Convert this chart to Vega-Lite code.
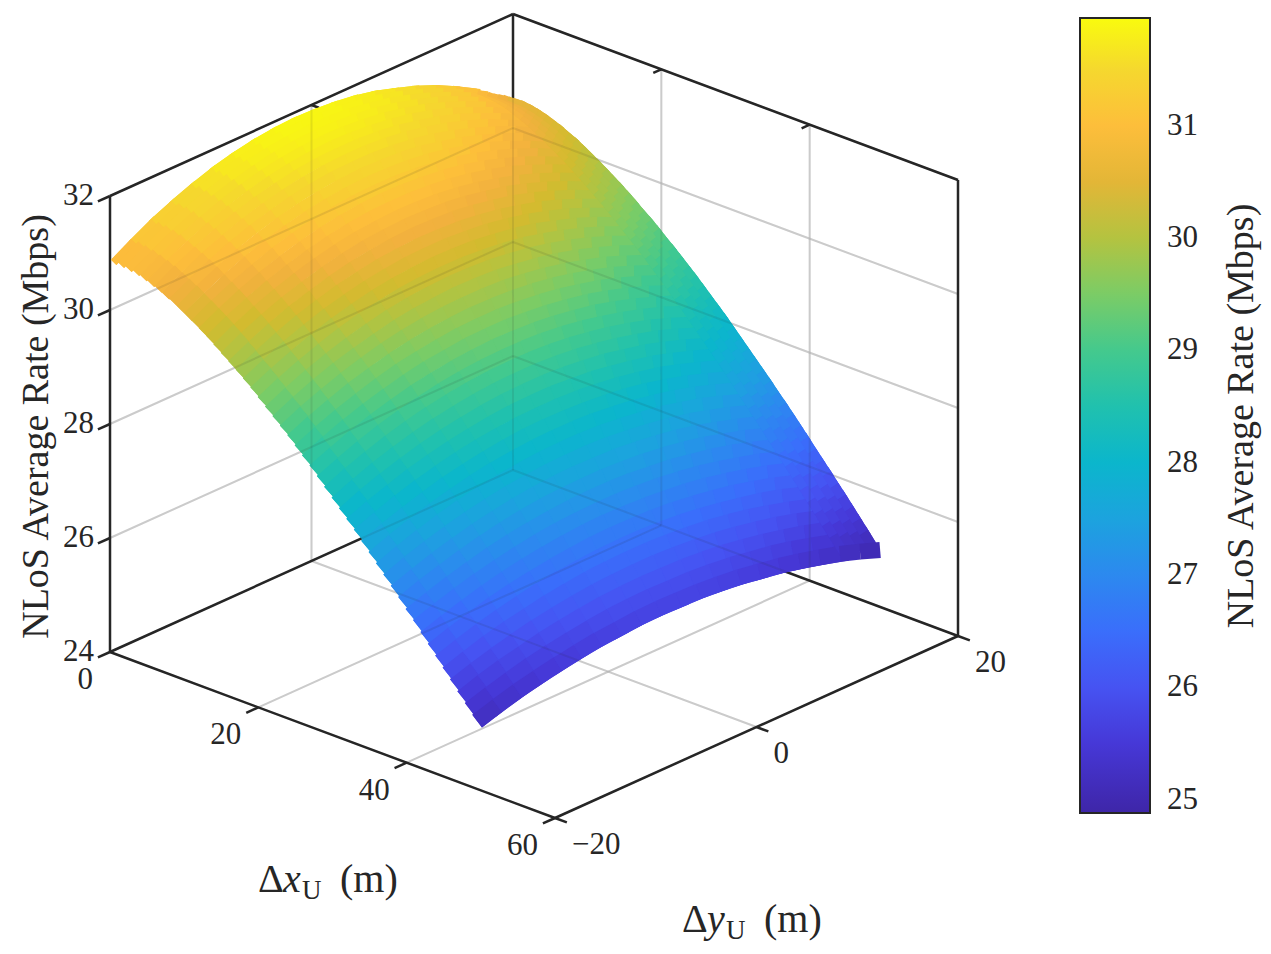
{
  "$schema": "https://vega.github.io/schema/vega-lite/v6.json",
  "width": 1271,
  "height": 954,
  "padding": 0,
  "autosize": {"type": "none"},
  "background": "white",
  "config": {"view": {"stroke": null}},
  "resolve": {"scale": {"size": "independent"}},
  "datasets": {
    "surface": [
      {"x":0.5,"-20":30.86,"-18":31.07,"-16":31.26,"-14":31.42,"-12":31.56,"-10":31.68,"-8":31.77,"-6":31.84,"-4":31.88,"-2":31.90,"0":31.89,"2":31.86,"4":31.81,"6":31.73,"8":31.62,"10":31.50,"12":31.35,"14":31.17,"16":30.97},
      {"x":1.5,"-20":30.86,"-18":31.07,"-16":31.25,"-14":31.42,"-12":31.56,"-10":31.67,"-8":31.76,"-6":31.83,"-4":31.87,"-2":31.89,"0":31.88,"2":31.85,"4":31.80,"6":31.72,"8":31.62,"10":31.49,"12":31.34,"14":31.16,"16":30.97},
      {"x":2.5,"-20":30.84,"-18":31.05,"-16":31.24,"-14":31.40,"-12":31.53,"-10":31.65,"-8":31.74,"-6":31.80,"-4":31.84,"-2":31.86,"0":31.86,"2":31.83,"4":31.77,"6":31.70,"8":31.59,"10":31.47,"12":31.32,"14":31.15,"16":30.95},
      {"x":3.5,"-20":30.82,"-18":31.02,"-16":31.21,"-14":31.37,"-12":31.50,"-10":31.61,"-8":31.70,"-6":31.77,"-4":31.81,"-2":31.83,"0":31.82,"2":31.79,"4":31.74,"6":31.66,"8":31.56,"10":31.44,"12":31.29,"14":31.12,"16":30.92},
      {"x":4.5,"-20":30.78,"-18":30.98,"-16":31.17,"-14":31.32,"-12":31.46,"-10":31.57,"-8":31.66,"-6":31.72,"-4":31.76,"-2":31.78,"0":31.77,"2":31.74,"4":31.69,"6":31.61,"8":31.52,"10":31.39,"12":31.25,"14":31.08,"16":30.89},
      {"x":5.5,"-20":30.73,"-18":30.93,"-16":31.11,"-14":31.27,"-12":31.40,"-10":31.51,"-8":31.60,"-6":31.66,"-4":31.70,"-2":31.72,"0":31.71,"2":31.68,"4":31.63,"6":31.56,"8":31.46,"10":31.34,"12":31.19,"14":31.03,"16":30.84},
      {"x":6.5,"-20":30.68,"-18":30.88,"-16":31.05,"-14":31.21,"-12":31.34,"-10":31.45,"-8":31.53,"-6":31.60,"-4":31.64,"-2":31.65,"0":31.65,"2":31.62,"4":31.57,"6":31.49,"8":31.40,"10":31.28,"12":31.13,"14":30.97,"16":30.78},
      {"x":7.5,"-20":30.61,"-18":30.81,"-16":30.99,"-14":31.14,"-12":31.27,"-10":31.38,"-8":31.46,"-6":31.52,"-4":31.56,"-2":31.58,"0":31.58,"2":31.55,"4":31.50,"6":31.42,"8":31.33,"10":31.21,"12":31.07,"14":30.90,"16":30.72},
      {"x":8.5,"-20":30.55,"-18":30.74,"-16":30.92,"-14":31.07,"-12":31.20,"-10":31.30,"-8":31.39,"-6":31.45,"-4":31.49,"-2":31.50,"0":31.50,"2":31.47,"4":31.42,"6":31.35,"8":31.25,"10":31.13,"12":30.99,"14":30.83,"16":30.65},
      {"x":9.5,"-20":30.47,"-18":30.67,"-16":30.84,"-14":30.99,"-12":31.11,"-10":31.22,"-8":31.30,"-6":31.36,"-4":31.40,"-2":31.42,"0":31.41,"2":31.39,"4":31.34,"6":31.26,"8":31.17,"10":31.05,"12":30.92,"14":30.76,"16":30.57},
      {"x":10.5,"-20":30.39,"-18":30.58,"-16":30.75,"-14":30.90,"-12":31.03,"-10":31.13,"-8":31.21,"-6":31.27,"-4":31.31,"-2":31.33,"0":31.32,"2":31.30,"4":31.25,"6":31.18,"8":31.08,"10":30.97,"12":30.83,"14":30.67,"16":30.49},
      {"x":11.5,"-20":30.31,"-18":30.50,"-16":30.67,"-14":30.81,"-12":30.94,"-10":31.04,"-8":31.12,"-6":31.18,"-4":31.22,"-2":31.23,"0":31.23,"2":31.20,"4":31.15,"6":31.08,"8":30.99,"10":30.88,"12":30.74,"14":30.59,"16":30.41},
      {"x":12.5,"-20":30.22,"-18":30.41,"-16":30.58,"-14":30.72,"-12":30.84,"-10":30.94,"-8":31.02,"-6":31.08,"-4":31.12,"-2":31.14,"0":31.13,"2":31.10,"4":31.06,"6":30.99,"8":30.90,"10":30.78,"12":30.65,"14":30.49,"16":30.32},
      {"x":13.5,"-20":30.13,"-18":30.32,"-16":30.48,"-14":30.62,"-12":30.74,"-10":30.84,"-8":30.92,"-6":30.98,"-4":31.02,"-2":31.03,"0":31.03,"2":31.00,"4":30.96,"6":30.89,"8":30.80,"10":30.69,"12":30.55,"14":30.40,"16":30.23},
      {"x":14.5,"-20":30.03,"-18":30.22,"-16":30.38,"-14":30.52,"-12":30.64,"-10":30.74,"-8":30.82,"-6":30.88,"-4":30.91,"-2":30.93,"0":30.92,"2":30.90,"4":30.85,"6":30.78,"8":30.69,"10":30.58,"12":30.45,"14":30.30,"16":30.13},
      {"x":15.5,"-20":29.93,"-18":30.12,"-16":30.28,"-14":30.42,"-12":30.53,"-10":30.63,"-8":30.71,"-6":30.77,"-4":30.80,"-2":30.82,"0":30.81,"2":30.79,"4":30.74,"6":30.67,"8":30.59,"10":30.48,"12":30.35,"14":30.20,"16":30.03},
      {"x":16.5,"-20":29.83,"-18":30.01,"-16":30.17,"-14":30.31,"-12":30.42,"-10":30.52,"-8":30.60,"-6":30.65,"-4":30.69,"-2":30.71,"0":30.70,"2":30.68,"4":30.63,"6":30.56,"8":30.48,"10":30.37,"12":30.24,"14":30.09,"16":29.92},
      {"x":17.5,"-20":29.73,"-18":29.90,"-16":30.06,"-14":30.20,"-12":30.31,"-10":30.41,"-8":30.48,"-6":30.54,"-4":30.57,"-2":30.59,"0":30.58,"2":30.56,"4":30.51,"6":30.45,"8":30.36,"10":30.26,"12":30.13,"14":29.98,"16":29.82},
      {"x":18.5,"-20":29.62,"-18":29.79,"-16":29.95,"-14":30.08,"-12":30.20,"-10":30.29,"-8":30.37,"-6":30.42,"-4":30.46,"-2":30.47,"0":30.47,"2":30.44,"4":30.40,"6":30.33,"8":30.25,"10":30.14,"12":30.02,"14":29.87,"16":29.71},
      {"x":19.5,"-20":29.51,"-18":29.68,"-16":29.83,"-14":29.96,"-12":30.08,"-10":30.17,"-8":30.25,"-6":30.30,"-4":30.33,"-2":30.35,"0":30.34,"2":30.32,"4":30.27,"6":30.21,"8":30.13,"10":30.02,"12":29.90,"14":29.76,"16":29.59},
      {"x":20.5,"-20":29.39,"-18":29.56,"-16":29.71,"-14":29.84,"-12":29.96,"-10":30.05,"-8":30.12,"-6":30.18,"-4":30.21,"-2":30.22,"0":30.22,"2":30.19,"4":30.15,"6":30.09,"8":30.00,"10":29.90,"12":29.78,"14":29.64,"16":29.48},
      {"x":21.5,"-20":29.27,"-18":29.44,"-16":29.59,"-14":29.72,"-12":29.83,"-10":29.92,"-8":30.00,"-6":30.05,"-4":30.08,"-2":30.10,"0":30.09,"2":30.07,"4":30.02,"6":29.96,"8":29.88,"10":29.78,"12":29.66,"14":29.52,"16":29.36},
      {"x":22.5,"-20":29.15,"-18":29.32,"-16":29.47,"-14":29.60,"-12":29.70,"-10":29.79,"-8":29.87,"-6":29.92,"-4":29.95,"-2":29.97,"0":29.96,"2":29.94,"4":29.89,"6":29.83,"8":29.75,"10":29.65,"12":29.53,"14":29.40,"16":29.24},
      {"x":23.5,"-20":29.03,"-18":29.20,"-16":29.34,"-14":29.47,"-12":29.58,"-10":29.67,"-8":29.74,"-6":29.79,"-4":29.82,"-2":29.83,"0":29.83,"2":29.81,"4":29.76,"6":29.70,"8":29.62,"10":29.52,"12":29.41,"14":29.27,"16":29.12},
      {"x":24.5,"-20":28.91,"-18":29.07,"-16":29.21,"-14":29.34,"-12":29.44,"-10":29.53,"-8":29.60,"-6":29.65,"-4":29.68,"-2":29.70,"0":29.69,"2":29.67,"4":29.63,"6":29.57,"8":29.49,"10":29.39,"12":29.28,"14":29.14,"16":28.99},
      {"x":25.5,"-20":28.78,"-18":28.94,"-16":29.08,"-14":29.20,"-12":29.31,"-10":29.40,"-8":29.46,"-6":29.51,"-4":29.55,"-2":29.56,"0":29.56,"2":29.53,"4":29.49,"6":29.43,"8":29.35,"10":29.26,"12":29.14,"14":29.01,"16":28.86},
      {"x":26.5,"-20":28.65,"-18":28.81,"-16":28.95,"-14":29.07,"-12":29.17,"-10":29.26,"-8":29.33,"-6":29.37,"-4":29.41,"-2":29.42,"0":29.42,"2":29.39,"4":29.35,"6":29.29,"8":29.22,"10":29.12,"12":29.01,"14":28.88,"16":28.73},
      {"x":27.5,"-20":28.52,"-18":28.67,"-16":28.81,"-14":28.93,"-12":29.03,"-10":29.12,"-8":29.18,"-6":29.23,"-4":29.26,"-2":29.28,"0":29.27,"2":29.25,"4":29.21,"6":29.15,"8":29.08,"10":28.98,"12":28.87,"14":28.74,"16":28.60},
      {"x":28.5,"-20":28.38,"-18":28.53,"-16":28.67,"-14":28.79,"-12":28.89,"-10":28.97,"-8":29.04,"-6":29.09,"-4":29.12,"-2":29.13,"0":29.13,"2":29.11,"4":29.07,"6":29.01,"8":28.93,"10":28.84,"12":28.73,"14":28.61,"16":28.46},
      {"x":29.5,"-20":28.24,"-18":28.40,"-16":28.53,"-14":28.65,"-12":28.75,"-10":28.83,"-8":28.89,"-6":28.94,"-4":28.97,"-2":28.98,"0":28.98,"2":28.96,"4":28.92,"6":28.86,"8":28.79,"10":28.70,"12":28.59,"14":28.46,"16":28.32},
      {"x":30.5,"-20":28.10,"-18":28.25,"-16":28.39,"-14":28.50,"-12":28.60,"-10":28.68,"-8":28.74,"-6":28.79,"-4":28.82,"-2":28.83,"0":28.83,"2":28.81,"4":28.77,"6":28.71,"8":28.64,"10":28.55,"12":28.45,"14":28.32,"16":28.18},
      {"x":31.5,"-20":27.96,"-18":28.11,"-16":28.24,"-14":28.35,"-12":28.45,"-10":28.53,"-8":28.59,"-6":28.64,"-4":28.67,"-2":28.68,"0":28.68,"2":28.66,"4":28.62,"6":28.57,"8":28.49,"10":28.41,"12":28.30,"14":28.18,"16":28.04},
      {"x":32.5,"-20":27.82,"-18":27.97,"-16":28.09,"-14":28.21,"-12":28.30,"-10":28.38,"-8":28.44,"-6":28.49,"-4":28.52,"-2":28.53,"0":28.53,"2":28.50,"4":28.47,"6":28.41,"8":28.34,"10":28.26,"12":28.15,"14":28.03,"16":27.90},
      {"x":33.5,"-20":27.68,"-18":27.82,"-16":27.95,"-14":28.06,"-12":28.15,"-10":28.23,"-8":28.29,"-6":28.33,"-4":28.36,"-2":28.37,"0":28.37,"2":28.35,"4":28.31,"6":28.26,"8":28.19,"10":28.11,"12":28.00,"14":27.88,"16":27.75},
      {"x":34.5,"-20":27.53,"-18":27.67,"-16":27.79,"-14":27.90,"-12":28.00,"-10":28.07,"-8":28.13,"-6":28.18,"-4":28.21,"-2":28.22,"0":28.21,"2":28.19,"4":28.16,"6":28.11,"8":28.04,"10":27.95,"12":27.85,"14":27.73,"16":27.60},
      {"x":35.5,"-20":27.38,"-18":27.52,"-16":27.64,"-14":27.75,"-12":27.84,"-10":27.92,"-8":27.98,"-6":28.02,"-4":28.05,"-2":28.06,"0":28.06,"2":28.04,"4":28.00,"6":27.95,"8":27.88,"10":27.80,"12":27.70,"14":27.58,"16":27.45},
      {"x":36.5,"-20":27.23,"-18":27.37,"-16":27.49,"-14":27.60,"-12":27.69,"-10":27.76,"-8":27.82,"-6":27.86,"-4":27.89,"-2":27.90,"0":27.90,"2":27.88,"4":27.84,"6":27.79,"8":27.73,"10":27.64,"12":27.55,"14":27.43,"16":27.30},
      {"x":37.5,"-20":27.08,"-18":27.22,"-16":27.34,"-14":27.44,"-12":27.53,"-10":27.60,"-8":27.66,"-6":27.70,"-4":27.73,"-2":27.74,"0":27.74,"2":27.72,"4":27.68,"6":27.63,"8":27.57,"10":27.49,"12":27.39,"14":27.28,"16":27.15},
      {"x":38.5,"-20":26.93,"-18":27.06,"-16":27.18,"-14":27.28,"-12":27.37,"-10":27.44,"-8":27.50,"-6":27.54,"-4":27.57,"-2":27.58,"0":27.57,"2":27.56,"4":27.52,"6":27.47,"8":27.41,"10":27.33,"12":27.23,"14":27.12,"16":27.00},
      {"x":39.5,"-20":26.78,"-18":26.91,"-16":27.02,"-14":27.12,"-12":27.21,"-10":27.28,"-8":27.34,"-6":27.38,"-4":27.40,"-2":27.41,"0":27.41,"2":27.39,"4":27.36,"6":27.31,"8":27.25,"10":27.17,"12":27.07,"14":26.97,"16":26.84},
      {"x":40.5,"-20":26.62,"-18":26.75,"-16":26.86,"-14":26.96,"-12":27.05,"-10":27.12,"-8":27.17,"-6":27.21,"-4":27.24,"-2":27.25,"0":27.25,"2":27.23,"4":27.19,"6":27.15,"8":27.08,"10":27.01,"12":26.92,"14":26.81,"16":26.69},
      {"x":41.5,"-20":26.47,"-18":26.59,"-16":26.70,"-14":26.80,"-12":26.88,"-10":26.95,"-8":27.01,"-6":27.05,"-4":27.07,"-2":27.08,"0":27.08,"2":27.06,"4":27.03,"6":26.98,"8":26.92,"10":26.84,"12":26.75,"14":26.65,"16":26.53},
      {"x":42.5,"-20":26.31,"-18":26.43,"-16":26.54,"-14":26.64,"-12":26.72,"-10":26.79,"-8":26.84,"-6":26.88,"-4":26.91,"-2":26.92,"0":26.91,"2":26.89,"4":26.86,"6":26.82,"8":26.76,"10":26.68,"12":26.59,"14":26.49,"16":26.37},
      {"x":43.5,"-20":26.15,"-18":26.27,"-16":26.38,"-14":26.48,"-12":26.56,"-10":26.62,"-8":26.67,"-6":26.71,"-4":26.74,"-2":26.75,"0":26.74,"2":26.73,"4":26.70,"6":26.65,"8":26.59,"10":26.52,"12":26.43,"14":26.33,"16":26.21},
      {"x":44.5,"-20":25.99,"-18":26.11,"-16":26.22,"-14":26.31,"-12":26.39,"-10":26.46,"-8":26.51,"-6":26.54,"-4":26.57,"-2":26.58,"0":26.58,"2":26.56,"4":26.53,"6":26.48,"8":26.42,"10":26.35,"12":26.27,"14":26.17,"16":26.05},
      {"x":45.5,"-20":25.83,"-18":25.95,"-16":26.06,"-14":26.15,"-12":26.22,"-10":26.29,"-8":26.34,"-6":26.38,"-4":26.40,"-2":26.41,"0":26.41,"2":26.39,"4":26.36,"6":26.32,"8":26.26,"10":26.19,"12":26.10,"14":26.00,"16":25.89},
      {"x":46.5,"-20":25.67,"-18":25.79,"-16":25.89,"-14":25.98,"-12":26.06,"-10":26.12,"-8":26.17,"-6":26.21,"-4":26.23,"-2":26.24,"0":26.24,"2":26.22,"4":26.19,"6":26.15,"8":26.09,"10":26.02,"12":25.94,"14":25.84,"16":25.73},
      {"x":47.5,"-20":25.51,"-18":25.63,"-16":25.73,"-14":25.81,"-12":25.89,"-10":25.95,"-8":26.00,"-6":26.04,"-4":26.06,"-2":26.07,"0":26.06,"2":26.05,"4":26.02,"6":25.98,"8":25.92,"10":25.85,"12":25.77,"14":25.68,"16":25.57},
      {"x":48.5,"-20":25.35,"-18":25.46,"-16":25.56,"-14":25.65,"-12":25.72,"-10":25.78,"-8":25.83,"-6":25.87,"-4":25.89,"-2":25.90,"0":25.89,"2":25.88,"4":25.85,"6":25.81,"8":25.75,"10":25.69,"12":25.61,"14":25.51,"16":25.41},
      {"x":49.5,"-20":25.19,"-18":25.30,"-16":25.40,"-14":25.48,"-12":25.55,"-10":25.61,"-8":25.66,"-6":25.69,"-4":25.72,"-2":25.73,"0":25.72,"2":25.71,"4":25.68,"6":25.64,"8":25.58,"10":25.52,"12":25.44,"14":25.35,"16":25.25}
    ],
    "edge": [
      {"x":49.5,"16":25.25,"18":25.13,"20":25.00}
    ],
    "band": [
      {"y":16.5,"0":30.91,"1":30.92,"2":30.91,"3":30.89,"4":30.86,"5":30.81,"6":30.76,"7":30.70,"8":30.63,"9":30.56,"10":30.48,"11":30.40,"12":30.32,"13":30.23,"14":30.13,"15":30.03,"16":29.93,"17":29.83,"18":29.72,"19":29.61,"20":29.49,"21":29.38,"22":29.26,"23":29.14,"24":29.01,"25":28.89,"26":28.76,"27":28.62,"28":28.49,"29":28.35,"30":28.21,"31":28.07,"32":27.93,"33":27.79,"34":27.64,"35":27.49,"36":27.34,"37":27.19,"38":27.04,"39":26.89,"40":26.73,"41":26.58,"42":26.42,"43":26.26,"44":26.10,"45":25.94,"46":25.78,"47":25.62,"48":25.46,"49":25.30,"50":25.14},
      {"y":17.5,"0":30.80,"1":30.80,"2":30.80,"3":30.78,"4":30.75,"5":30.70,"6":30.65,"7":30.59,"8":30.53,"9":30.46,"10":30.38,"11":30.30,"12":30.22,"13":30.13,"14":30.03,"15":29.94,"16":29.84,"17":29.73,"18":29.63,"19":29.52,"20":29.40,"21":29.29,"22":29.17,"23":29.05,"24":28.93,"25":28.80,"26":28.67,"27":28.54,"28":28.41,"29":28.27,"30":28.13,"31":27.99,"32":27.85,"33":27.71,"34":27.56,"35":27.42,"36":27.27,"37":27.12,"38":26.97,"39":26.82,"40":26.66,"41":26.51,"42":26.35,"43":26.20,"44":26.04,"45":25.88,"46":25.72,"47":25.56,"48":25.40,"49":25.24,"50":25.08},
      {"y":18.5,"0":30.68,"1":30.69,"2":30.68,"3":30.66,"4":30.63,"5":30.59,"6":30.54,"7":30.48,"8":30.42,"9":30.35,"10":30.28,"11":30.20,"12":30.11,"13":30.02,"14":29.93,"15":29.84,"16":29.74,"17":29.63,"18":29.53,"19":29.42,"20":29.31,"21":29.19,"22":29.08,"23":28.96,"24":28.83,"25":28.71,"26":28.58,"27":28.45,"28":28.32,"29":28.19,"30":28.05,"31":27.91,"32":27.77,"33":27.63,"34":27.49,"35":27.34,"36":27.19,"37":27.05,"38":26.90,"39":26.74,"40":26.59,"41":26.44,"42":26.28,"43":26.13,"44":25.97,"45":25.82,"46":25.66,"47":25.50,"48":25.34,"49":25.18,"50":25.02},
      {"y":19.5,"0":30.56,"1":30.56,"2":30.56,"3":30.54,"4":30.51,"5":30.47,"6":30.42,"7":30.37,"8":30.30,"9":30.24,"10":30.16,"11":30.08,"12":30.00,"13":29.91,"14":29.82,"15":29.73,"16":29.63,"17":29.53,"18":29.42,"19":29.32,"20":29.21,"21":29.09,"22":28.98,"23":28.86,"24":28.74,"25":28.62,"26":28.49,"27":28.36,"28":28.23,"29":28.10,"30":27.96,"31":27.82,"32":27.68,"33":27.54,"34":27.40,"35":27.26,"36":27.11,"37":26.97,"38":26.82,"39":26.67,"40":26.52,"41":26.36,"42":26.21,"43":26.06,"44":25.90,"45":25.75,"46":25.59,"47":25.43,"48":25.27,"49":25.11,"50":24.96}
    ],
    "lines": [
      {"k":"box","x":0,"y":-20,"z":24,"x2":0,"y2":-20,"z2":32},
      {"k":"box","x":0,"y":-20,"z":32,"x2":0,"y2":20,"z2":32},
      {"k":"box","x":0,"y":20,"z":24,"x2":0,"y2":20,"z2":32},
      {"k":"box","x":0,"y":20,"z":32,"x2":60,"y2":20,"z2":32},
      {"k":"box","x":60,"y":20,"z":24,"x2":60,"y2":20,"z2":32},
      {"k":"box","x":0,"y":-20,"z":24,"x2":60,"y2":-20,"z2":24},
      {"k":"box","x":60,"y":-20,"z":24,"x2":60,"y2":20,"z2":24},
      {"k":"box","x":0,"y":-20,"z":24,"x2":0,"y2":20,"z2":24},
      {"k":"box","x":0,"y":20,"z":24,"x2":60,"y2":20,"z2":24},
      {"k":"grid","x":0,"y":-20,"z":26,"x2":0,"y2":20,"z2":26},
      {"k":"grid","x":0,"y":-20,"z":28,"x2":0,"y2":20,"z2":28},
      {"k":"grid","x":0,"y":-20,"z":30,"x2":0,"y2":20,"z2":30},
      {"k":"grid","x":0,"y":0,"z":24,"x2":0,"y2":0,"z2":32},
      {"k":"grid","x":0,"y":20,"z":26,"x2":60,"y2":20,"z2":26},
      {"k":"grid","x":0,"y":20,"z":28,"x2":60,"y2":20,"z2":28},
      {"k":"grid","x":0,"y":20,"z":30,"x2":60,"y2":20,"z2":30},
      {"k":"grid","x":20,"y":20,"z":24,"x2":20,"y2":20,"z2":32},
      {"k":"grid","x":40,"y":20,"z":24,"x2":40,"y2":20,"z2":32},
      {"k":"grid","x":20,"y":-20,"z":24,"x2":20,"y2":20,"z2":24},
      {"k":"grid","x":40,"y":-20,"z":24,"x2":40,"y2":20,"z2":24},
      {"k":"grid","x":0,"y":0,"z":24,"x2":60,"y2":0,"z2":24},
      {"k":"tick","x":0,"y":-20,"z":24,"x2":0,"y2":-21.2,"z2":24},
      {"k":"tick","x":0,"y":-20,"z":26,"x2":0,"y2":-21.2,"z2":26},
      {"k":"tick","x":0,"y":-20,"z":28,"x2":0,"y2":-21.2,"z2":28},
      {"k":"tick","x":0,"y":-20,"z":30,"x2":0,"y2":-21.2,"z2":30},
      {"k":"tick","x":0,"y":-20,"z":32,"x2":0,"y2":-21.2,"z2":32},
      {"k":"tick","x":20,"y":-20,"z":24,"x2":20,"y2":-21.2,"z2":24},
      {"k":"tick","x":40,"y":-20,"z":24,"x2":40,"y2":-21.2,"z2":24},
      {"k":"tick","x":60,"y":-20,"z":24,"x2":60,"y2":-21.2,"z2":24},
      {"k":"tick","x":60,"y":-20,"z":24,"x2":61.6,"y2":-20,"z2":24},
      {"k":"tick","x":60,"y":0,"z":24,"x2":61.6,"y2":0,"z2":24},
      {"k":"tick","x":60,"y":20,"z":24,"x2":61.6,"y2":20,"z2":24},
      {"k":"tick","x":0,"y":0,"z":32,"x2":1.0,"y2":0,"z2":32},
      {"k":"tick","x":20,"y":20,"z":32,"x2":20,"y2":19.2,"z2":32},
      {"k":"tick","x":40,"y":20,"z":32,"x2":40,"y2":19.2,"z2":32}
    ],
    "ticklabels": [
      {"a":"z","t":"24","x":0,"y":-20,"z":24},
      {"a":"z","t":"26","x":0,"y":-20,"z":26},
      {"a":"z","t":"28","x":0,"y":-20,"z":28},
      {"a":"z","t":"30","x":0,"y":-20,"z":30},
      {"a":"z","t":"32","x":0,"y":-20,"z":32},
      {"a":"x","t":"0","x":0,"y":-20,"z":24},
      {"a":"x","t":"20","x":20,"y":-20,"z":24},
      {"a":"x","t":"40","x":40,"y":-20,"z":24},
      {"a":"x","t":"60","x":60,"y":-20,"z":24},
      {"a":"y","t":"−20","x":60,"y":-20,"z":24},
      {"a":"y","t":"0","x":60,"y":0,"z":24},
      {"a":"y","t":"20","x":60,"y":20,"z":24}
    ],
    "titles": [
      {"a":"x","n":"x","x":30,"y":-20,"z":21.25},
      {"a":"y","n":"y","x":60,"y":0,"z":20.4}
    ],
    "ztitle": [
      {"t":"NLoS Average Rate (Mbps)","x":0,"y":-20,"z":28}
    ]
  },
  "encoding": {
    "x": {"field": "u", "type": "quantitative", "scale": {"domain": [0, 1271], "nice": false, "zero": false}, "axis": null},
    "y": {"field": "v", "type": "quantitative", "scale": {"domain": [0, 954], "reverse": true, "nice": false, "zero": false}, "axis": null}
  },
  "layer": [
    {
      "data": {"name": "lines"},
      "transform": [
        {"filter": "datum.k == 'grid'"},
        {"calculate": "110 + 7.4167*datum.x + 10.075*(datum.y+20)", "as": "u"},
        {"calculate": "652 + 2.7667*datum.x - 4.55*(datum.y+20) - 57*(datum.z-24)", "as": "v"},
        {"calculate": "110 + 7.4167*datum.x2 + 10.075*(datum.y2+20)", "as": "u2"},
        {"calculate": "652 + 2.7667*datum.x2 - 4.55*(datum.y2+20) - 57*(datum.z2-24)", "as": "v2"}
      ],
      "mark": {"type": "rule", "color": "#dedede", "strokeWidth": 2},
      "encoding": {"x2": {"field": "u2"}, "y2": {"field": "v2"}}
    },
    {
      "data": {"name": "lines"},
      "transform": [
        {"filter": "datum.k != 'grid'"},
        {"calculate": "110 + 7.4167*datum.x + 10.075*(datum.y+20)", "as": "u"},
        {"calculate": "652 + 2.7667*datum.x - 4.55*(datum.y+20) - 57*(datum.z-24)", "as": "v"},
        {"calculate": "110 + 7.4167*datum.x2 + 10.075*(datum.y2+20)", "as": "u2"},
        {"calculate": "652 + 2.7667*datum.x2 - 4.55*(datum.y2+20) - 57*(datum.z2-24)", "as": "v2"}
      ],
      "mark": {"type": "rule", "color": "#262626", "strokeWidth": 2.5},
      "encoding": {"x2": {"field": "u2"}, "y2": {"field": "v2"}}
    },
    {
      "encoding": {
        "x2": {"field": "u2"},
        "y2": {"field": "v2"},
        "color": {
          "field": "zm", "type": "quantitative",
          "scale": {
            "domain": [24.88, 25.5, 26, 26.5, 27, 27.5, 28, 28.5, 29, 29.5, 30, 30.3, 30.7, 31, 31.5, 31.96],
            "range": ["#3E26A8", "#4638D7", "#4653F2", "#3A6EFB", "#2C89EF", "#1CA3DE", "#0BB6CC", "#20C1AE", "#44C98D", "#7BCC66", "#B4C340", "#D3BB2F", "#F2B13E", "#FDBE3B", "#F5D82E", "#F9FB0E"],
            "interpolate": "rgb", "zero": false, "nice": false
          },
          "legend": {
            "orient": "none", "legendX": 1080, "legendY": 18, "direction": "vertical",
            "gradientLength": 795, "gradientThickness": 70,
            "gradientStrokeColor": "#262626", "gradientStrokeWidth": 2,
            "values": [25, 26, 27, 28, 29, 30, 31], "format": "d",
            "labelFont": "Liberation Serif", "labelFontSize": 31, "labelColor": "#262626", "labelOffset": 17,
            "labelOverlap": false, "padding": 0,
            "title": "NLoS Average Rate (Mbps)", "titleOrient": "right", "titleAnchor": "middle",
            "titleFont": "Liberation Serif", "titleFontSize": 38, "titleFontWeight": "normal", "titleColor": "#262626",
            "titlePadding": 25, "titleBaseline": "top", "titleAlign": "center", "titleLimit": 2000,
            "encode": {"title": {"update": {"angle": {"value": -90}}}}
          }
        }
      },
      "resolve": {"scale": {"size": "independent"}},
      "layer": [
        {
          "data": {"name": "surface"},
          "transform": [
            {"fold": ["-20","-18","-16","-14","-12","-10","-8","-6","-4","-2","0","2","4","6","8","10","12","14","16"], "as": ["ys", "z"]},
            {"calculate": "toNumber(datum.ys)", "as": "y"},
            {"window": [{"op": "lead", "field": "y", "as": "y2"}, {"op": "lead", "field": "z", "as": "z2"}], "groupby": ["x"], "sort": [{"field": "y", "order": "ascending"}]},
            {"filter": "datum.y2 != null && datum.y < -19"},
            {"calculate": "110 + 7.4167*datum.x + 10.075*(datum.y+20)", "as": "u"},
            {"calculate": "652 + 2.7667*datum.x - 4.55*(datum.y+20) - 57*(datum.z-24)", "as": "v"},
            {"calculate": "110 + 7.4167*datum.x + 10.075*(datum.y2+20)", "as": "u2"},
            {"calculate": "652 + 2.7667*datum.x - 4.55*(datum.y2+20) - 57*(datum.z2-24)", "as": "v2"},
            {"calculate": "(datum.z+datum.z2)/2", "as": "zm"}
          ],
          "mark": {"type": "rule", "strokeCap": "butt"},
          "encoding": {
            "order": {"field": "x", "type": "quantitative"},
            "size": {"field": "x", "type": "quantitative", "scale": {"type": "sqrt", "domain": [0, 50], "range": [6.5, 16]}, "legend": null}
          }
        },
        {
          "data": {"name": "surface"},
          "transform": [
            {"fold": ["-20","-18","-16","-14","-12","-10","-8","-6","-4","-2","0","2","4","6","8","10","12","14","16"], "as": ["ys", "z"]},
            {"calculate": "toNumber(datum.ys)", "as": "y"},
            {"window": [{"op": "lead", "field": "y", "as": "y2"}, {"op": "lead", "field": "z", "as": "z2"}], "groupby": ["x"], "sort": [{"field": "y", "order": "ascending"}]},
            {"filter": "datum.y2 != null && datum.y > -19"},
            {"calculate": "110 + 7.4167*datum.x + 10.075*(datum.y+20)", "as": "u"},
            {"calculate": "652 + 2.7667*datum.x - 4.55*(datum.y+20) - 57*(datum.z-24)", "as": "v"},
            {"calculate": "110 + 7.4167*datum.x + 10.075*(datum.y2+20)", "as": "u2"},
            {"calculate": "652 + 2.7667*datum.x - 4.55*(datum.y2+20) - 57*(datum.z2-24)", "as": "v2"},
            {"calculate": "(datum.z+datum.z2)/2", "as": "zm"}
          ],
          "mark": {"type": "rule", "strokeCap": "square"},
          "encoding": {
            "order": {"field": "x", "type": "quantitative"},
            "size": {"field": "x", "type": "quantitative", "scale": {"type": "sqrt", "domain": [0, 50], "range": [6.5, 16]}, "legend": null}
          }
        },
        {
          "data": {"name": "surface"},
          "transform": [
            {"fold": ["-20","-18","-16","-14","-12","-10","-8","-6","-4","-2","0","2","4","6","8","10","12","14","16"], "as": ["ys", "z"]},
            {"calculate": "toNumber(datum.ys)", "as": "y"},
            {"window": [{"op": "lead", "field": "y", "as": "y2"}, {"op": "lead", "field": "z", "as": "z2"}], "groupby": ["x"], "sort": [{"field": "y", "order": "ascending"}]},
            {"filter": "datum.y2 != null"},
            {"calculate": "110 + 7.4167*datum.x + 10.075*(datum.y+20)", "as": "u"},
            {"calculate": "652 + 2.7667*datum.x - 4.55*(datum.y+20) - 57*(datum.z-24)", "as": "v"},
            {"calculate": "110 + 7.4167*datum.x + 10.075*(datum.y2+20)", "as": "u2"},
            {"calculate": "652 + 2.7667*datum.x - 4.55*(datum.y2+20) - 57*(datum.z2-24)", "as": "v2"},
            {"calculate": "(datum.z+datum.z2)/2", "as": "zm"}
          ],
          "mark": {"type": "rule", "strokeCap": "butt"},
          "encoding": {
            "order": {"field": "x", "type": "quantitative"},
            "size": {"field": "x", "type": "quantitative", "scale": {"type": "sqrt", "domain": [0, 50], "range": [6.5, 16]}, "legend": null}
          }
        },
        {
          "data": {"name": "band"},
          "transform": [
            {"fold": ["0","1","2","3","4","5","6","7","8","9","10","11","12","13","14","15","16","17","18","19","20","21","22","23","24","25","26","27","28","29","30","31","32","33","34","35","36","37","38","39","40","41","42","43","44","45","46","47","48","49","50"], "as": ["xs", "z"]},
            {"calculate": "toNumber(datum.xs)", "as": "x"},
            {"window": [{"op": "lead", "field": "x", "as": "x2"}, {"op": "lead", "field": "z", "as": "z2"}], "groupby": ["y"], "sort": [{"field": "x", "order": "ascending"}]},
            {"filter": "datum.x2 != null && datum.x > 0 && datum.x < 49"},
            {"calculate": "110 + 7.4167*datum.x + 10.075*(datum.y+20)", "as": "u"},
            {"calculate": "652 + 2.7667*datum.x - 4.55*(datum.y+20) - 57*(datum.z-24)", "as": "v"},
            {"calculate": "110 + 7.4167*datum.x2 + 10.075*(datum.y+20)", "as": "u2"},
            {"calculate": "652 + 2.7667*datum.x2 - 4.55*(datum.y+20) - 57*(datum.z2-24)", "as": "v2"},
            {"calculate": "(datum.z+datum.z2)/2", "as": "zm"}
          ],
          "mark": {"type": "rule", "strokeCap": "square"},
          "encoding": {
            "size": {"field": "x", "type": "quantitative", "scale": {"type": "sqrt", "domain": [0, 50], "range": [4.5, 10]}, "legend": null}
          }
        },
        {
          "data": {"name": "band"},
          "transform": [
            {"fold": ["0","1","2","3","4","5","6","7","8","9","10","11","12","13","14","15","16","17","18","19","20","21","22","23","24","25","26","27","28","29","30","31","32","33","34","35","36","37","38","39","40","41","42","43","44","45","46","47","48","49","50"], "as": ["xs", "z"]},
            {"calculate": "toNumber(datum.xs)", "as": "x"},
            {"window": [{"op": "lead", "field": "x", "as": "x2"}, {"op": "lead", "field": "z", "as": "z2"}], "groupby": ["y"], "sort": [{"field": "x", "order": "ascending"}]},
            {"filter": "datum.x2 != null && datum.x < 49"},
            {"calculate": "110 + 7.4167*datum.x + 10.075*(datum.y+20)", "as": "u"},
            {"calculate": "652 + 2.7667*datum.x - 4.55*(datum.y+20) - 57*(datum.z-24)", "as": "v"},
            {"calculate": "110 + 7.4167*datum.x2 + 10.075*(datum.y+20)", "as": "u2"},
            {"calculate": "652 + 2.7667*datum.x2 - 4.55*(datum.y+20) - 57*(datum.z2-24)", "as": "v2"},
            {"calculate": "(datum.z+datum.z2)/2", "as": "zm"}
          ],
          "mark": {"type": "rule", "strokeCap": "butt"},
          "encoding": {
            "size": {"field": "x", "type": "quantitative", "scale": {"type": "sqrt", "domain": [0, 50], "range": [4.5, 10]}, "legend": null}
          }
        },
        {
          "data": {"name": "edge"},
          "transform": [
            {"fold": ["16", "18", "20"], "as": ["ys", "z"]},
            {"calculate": "toNumber(datum.ys)", "as": "y"},
            {"window": [{"op": "lead", "field": "y", "as": "y2"}, {"op": "lead", "field": "z", "as": "z2"}], "groupby": ["x"], "sort": [{"field": "y", "order": "ascending"}]},
            {"filter": "datum.y2 != null"},
            {"calculate": "110 + 7.4167*datum.x + 10.075*(datum.y+20)", "as": "u"},
            {"calculate": "652 + 2.7667*datum.x - 4.55*(datum.y+20) - 57*(datum.z-24)", "as": "v"},
            {"calculate": "110 + 7.4167*datum.x + 10.075*(datum.y2+20)", "as": "u2"},
            {"calculate": "652 + 2.7667*datum.x - 4.55*(datum.y2+20) - 57*(datum.z2-24)", "as": "v2"},
            {"calculate": "(datum.z+datum.z2)/2", "as": "zm"}
          ],
          "mark": {"type": "rule", "strokeCap": "butt"},
          "encoding": {
            "size": {"field": "x", "type": "quantitative", "scale": {"type": "sqrt", "domain": [0, 50], "range": [6.5, 16]}, "legend": null}
          }
        }
      ]
    },
    {
      "data": {"name": "lines"},
      "transform": [
        {"filter": "datum.k != 'tick'"},
        {"calculate": "110 + 7.4167*datum.x + 10.075*(datum.y+20)", "as": "u"},
        {"calculate": "652 + 2.7667*datum.x - 4.55*(datum.y+20) - 57*(datum.z-24)", "as": "v"},
        {"calculate": "110 + 7.4167*datum.x2 + 10.075*(datum.y2+20)", "as": "u2"},
        {"calculate": "652 + 2.7667*datum.x2 - 4.55*(datum.y2+20) - 57*(datum.z2-24)", "as": "v2"}
      ],
      "mark": {"type": "rule", "color": "#262626", "strokeWidth": 2, "opacity": 0.1},
      "encoding": {"x2": {"field": "u2"}, "y2": {"field": "v2"}}
    },
    {
      "data": {"name": "ticklabels"},
      "transform": [
        {"filter": "datum.a == 'z'"},
        {"calculate": "110 + 7.4167*datum.x + 10.075*(datum.y+20)", "as": "u"},
        {"calculate": "652 + 2.7667*datum.x - 4.55*(datum.y+20) - 57*(datum.z-24)", "as": "v"}
      ],
      "mark": {"type": "text", "font": "Liberation Serif", "fontSize": 31, "color": "#262626", "align": "right", "baseline": "middle", "dx": -16},
      "encoding": {"text": {"field": "t"}}
    },
    {
      "data": {"name": "ticklabels"},
      "transform": [
        {"filter": "datum.a == 'x'"},
        {"calculate": "110 + 7.4167*datum.x + 10.075*(datum.y+20)", "as": "u"},
        {"calculate": "652 + 2.7667*datum.x - 4.55*(datum.y+20) - 57*(datum.z-24)", "as": "v"}
      ],
      "mark": {"type": "text", "font": "Liberation Serif", "fontSize": 31, "color": "#262626", "align": "right", "baseline": "middle", "dx": -17, "dy": 28},
      "encoding": {"text": {"field": "t"}}
    },
    {
      "data": {"name": "ticklabels"},
      "transform": [
        {"filter": "datum.a == 'y'"},
        {"calculate": "110 + 7.4167*datum.x + 10.075*(datum.y+20)", "as": "u"},
        {"calculate": "652 + 2.7667*datum.x - 4.55*(datum.y+20) - 57*(datum.z-24)", "as": "v"}
      ],
      "mark": {"type": "text", "font": "Liberation Serif", "fontSize": 31, "color": "#262626", "align": "left", "baseline": "middle", "dx": 17, "dy": 27},
      "encoding": {"text": {"field": "t"}}
    },
    {
      "data": {"name": "ztitle"},
      "transform": [
        {"calculate": "110 + 7.4167*datum.x + 10.075*(datum.y+20)", "as": "u"},
        {"calculate": "652 + 2.7667*datum.x - 4.55*(datum.y+20) - 57*(datum.z-24)", "as": "v"}
      ],
      "mark": {"type": "text", "font": "Liberation Serif", "fontSize": 38, "color": "#262626", "align": "center", "baseline": "middle", "angle": -90, "dx": -2.5, "dy": -73},
      "encoding": {"text": {"field": "t"}}
    },
    {
      "data": {"name": "titles"},
      "transform": [
        {"calculate": "110 + 7.4167*datum.x + 10.075*(datum.y+20)", "as": "u"},
        {"calculate": "652 + 2.7667*datum.x - 4.55*(datum.y+20) - 57*(datum.z-24)", "as": "v"}
      ],
      "mark": {"type": "text", "font": "Liberation Serif", "fontSize": 40, "color": "#262626", "align": "left", "baseline": "alphabetic", "dx": -74.5},
      "encoding": {"text": {"value": "Δ"}}
    },
    {
      "data": {"name": "titles"},
      "transform": [
        {"calculate": "110 + 7.4167*datum.x + 10.075*(datum.y+20)", "as": "u"},
        {"calculate": "652 + 2.7667*datum.x - 4.55*(datum.y+20) - 57*(datum.z-24)", "as": "v"}
      ],
      "mark": {"type": "text", "font": "Liberation Serif", "fontSize": 40, "fontStyle": "italic", "color": "#262626", "align": "left", "baseline": "alphabetic", "dx": -49.5},
      "encoding": {"text": {"field": "n"}}
    },
    {
      "data": {"name": "titles"},
      "transform": [
        {"calculate": "110 + 7.4167*datum.x + 10.075*(datum.y+20)", "as": "u"},
        {"calculate": "652 + 2.7667*datum.x - 4.55*(datum.y+20) - 57*(datum.z-24)", "as": "v"}
      ],
      "mark": {"type": "text", "font": "Liberation Serif", "fontSize": 27, "color": "#262626", "align": "left", "baseline": "alphabetic", "dx": -30.5, "dy": 7},
      "encoding": {"text": {"value": "U"}}
    },
    {
      "data": {"name": "titles"},
      "transform": [
        {"calculate": "110 + 7.4167*datum.x + 10.075*(datum.y+20)", "as": "u"},
        {"calculate": "652 + 2.7667*datum.x - 4.55*(datum.y+20) - 57*(datum.z-24)", "as": "v"}
      ],
      "mark": {"type": "text", "font": "Liberation Serif", "fontSize": 40, "color": "#262626", "align": "left", "baseline": "alphabetic", "dx": 7.5},
      "encoding": {"text": {"value": "(m)"}}
    }
  ]
}
